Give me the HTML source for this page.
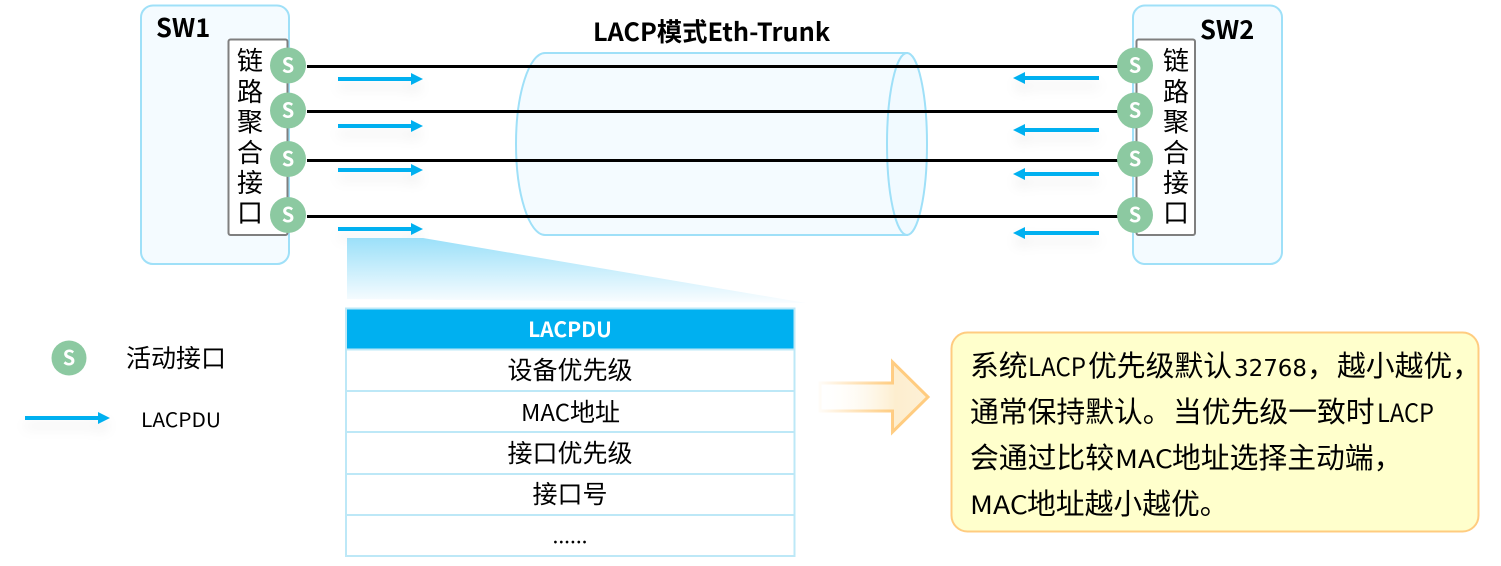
<!DOCTYPE html>
<html><head><meta charset="utf-8"><style>
html,body{margin:0;padding:0;background:#fff}
svg{display:block}
text{font-family:"Noto Sans CJK SC","Liberation Sans",sans-serif;fill:#000}
.s{font-size:20px;fill:#fff;text-anchor:middle;font-weight:700}
.p{font-size:26px;text-anchor:middle}
.t{font-size:25px;text-anchor:middle}
.y{font-size:28.8px}
</style></head><body>
<svg width="1501" height="566" viewBox="0 0 1501 566" xmlns="http://www.w3.org/2000/svg">
<defs>
<linearGradient id="g1" x1="0" y1="0" x2="0" y2="1"><stop offset="0" stop-color="#9be0f9"/><stop offset="1" stop-color="#fafdff"/></linearGradient>
<linearGradient id="g2" gradientUnits="userSpaceOnUse" x1="820" y1="0" x2="928" y2="0"><stop offset="0" stop-color="#fff" stop-opacity="0"/><stop offset="0.7" stop-color="#fdeecf"/><stop offset="1" stop-color="#fdf0d6"/></linearGradient>
<linearGradient id="g3" gradientUnits="userSpaceOnUse" x1="815" y1="0" x2="895" y2="0"><stop offset="0" stop-color="#ffcc80" stop-opacity="0"/><stop offset="1" stop-color="#ffcc80"/></linearGradient>
<filter id="sh" x="-20%" y="-300%" width="140%" height="900%"><feDropShadow dx="0" dy="8" stdDeviation="6" flood-color="#000" flood-opacity="0.08"/></filter>
</defs>

<rect x="141" y="5.500" width="148" height="258.500" rx="12" fill="#f4fbff" stroke="#9fe0f8" stroke-width="2"/>
<rect x="1133" y="5.500" width="149" height="258.500" rx="12" fill="#f4fbff" stroke="#9fe0f8" stroke-width="2"/>
<text x="156" y="37" font-size="25.500" font-weight="700">SW1</text>
<text x="1200" y="39" font-size="25.500" font-weight="700">SW2</text>
<text x="593" y="41" font-size="25.300" font-weight="700">LACP模式Eth-Trunk</text>

<rect x="228.500" y="39.500" width="59" height="195.500" rx="2" fill="#fff" stroke="#7f7f7f" stroke-width="2"/>
<rect x="1136.500" y="39.500" width="58.500" height="195.500" rx="2" fill="#fff" stroke="#7f7f7f" stroke-width="2"/>
<text class="p" x="250" y="70">链</text><text class="p" x="250" y="101">路</text><text class="p" x="250" y="131">聚</text><text class="p" x="250" y="162">合</text><text class="p" x="250" y="192">接</text><text class="p" x="250" y="222">口</text>
<text class="p" x="1176" y="70">链</text><text class="p" x="1176" y="101">路</text><text class="p" x="1176" y="131">聚</text><text class="p" x="1176" y="162">合</text><text class="p" x="1176" y="192">接</text><text class="p" x="1176" y="222">口</text>

<path d="M545 53H907V235H545C529 235 516 194 516 144C516 94 529 53 545 53Z" fill="#f4fbff" stroke="#9fe0f8" stroke-width="2"/>
<ellipse cx="907" cy="144" rx="20" ry="91" fill="#f1faff" stroke="#9fe0f8" stroke-width="2"/>

<g stroke="#000" stroke-width="3"><path d="M307 66.500H1119"/><path d="M307 111.500H1119"/><path d="M307 160.500H1119"/><path d="M307 216.500H1119"/></g>

<g fill="#8cc9a1">
<circle cx="288" cy="65.500" r="18"/><circle cx="288" cy="110.500" r="18"/><circle cx="288" cy="159" r="18"/><circle cx="288" cy="215" r="18"/>
<circle cx="1135" cy="65.500" r="18"/><circle cx="1135" cy="110.500" r="18"/><circle cx="1135" cy="159" r="18"/><circle cx="1135" cy="215" r="18"/>
<circle cx="69" cy="358" r="17.500"/>
</g>
<text class="s" x="288" y="72.500">S</text><text class="s" x="288" y="117.500">S</text><text class="s" x="288" y="166">S</text><text class="s" x="288" y="222">S</text>
<text class="s" x="1135" y="72.500">S</text><text class="s" x="1135" y="117.500">S</text><text class="s" x="1135" y="166">S</text><text class="s" x="1135" y="222">S</text>
<text class="s" x="69" y="365">S</text>

<g fill="#00b0f0" filter="url(#sh)">
<path d="M338 77H411V73L423 79L411 85V81H338Z"/>
<path d="M338 124H411V120L423 126L411 132V128H338Z"/>
<path d="M338 168H411V164L423 170L411 176V172H338Z"/>
<path d="M338 227H411V223L423 229L411 235V231H338Z"/>
<path d="M1099 76H1025V72L1013 78L1025 84V80H1099Z"/>
<path d="M1099 128H1025V124L1013 130L1025 136V132H1099Z"/>
<path d="M1099 172H1025V168L1013 174L1025 180V176H1099Z"/>
<path d="M1099 231H1025V227L1013 233L1025 239V235H1099Z"/>
<path d="M25 416H98V412L110 418L98 424V420H25Z"/>
</g>

<path d="M347 238H423L806 303L347 299Z" fill="url(#g1)"/>

<rect x="346" y="309" width="448" height="40" fill="#00b0f0"/>
<rect x="346" y="308.500" width="448.500" height="247.500" fill="none" stroke="#bde8f7" stroke-width="2"/>
<g stroke="#bde8f7" stroke-width="2"><path d="M346 349.500H795"/><path d="M346 391H795"/><path d="M346 432H795"/><path d="M346 474H795"/><path d="M346 515H795"/></g>
<text x="570" y="337" font-size="21" font-weight="700" text-anchor="middle" style="fill:#fff">LACPDU</text>
<text class="t" x="570" y="379">设备优先级</text>
<text x="521" y="421" font-size="23" textLength="49" lengthAdjust="spacingAndGlyphs">MAC</text><text class="t" x="570" y="421" style="text-anchor:start">地址</text>
<text class="t" x="570" y="462">接口优先级</text>
<text class="t" x="570" y="503">接口号</text>
<text x="570" y="543" font-size="21" text-anchor="middle">......</text>

<text x="126" y="367" font-size="25">活动接口</text>
<text x="141" y="427" font-size="20" textLength="80" lengthAdjust="spacingAndGlyphs">LACPDU</text>

<path d="M820 383H892.500V362L928 397L892.500 432V411H820Z" fill="url(#g2)" stroke="url(#g3)" stroke-width="3"/>

<rect x="951.500" y="332.500" width="527" height="199" rx="16" fill="#ffffcc" stroke="#ffcc80" stroke-width="2"/>
<text class="y" x="970" y="376">系统</text><text class="y" x="1028" y="376" textLength="58" lengthAdjust="spacingAndGlyphs" style="font-size:25px">LACP</text><text class="y" x="1088" y="376">优先级默认</text><text class="y" x="1234" y="376" textLength="73" lengthAdjust="spacingAndGlyphs" style="font-size:23px;font-family:'DejaVu Sans',sans-serif">32768</text><text class="y" x="1307" y="376">，</text><text class="y" x="1337" y="376">越小越优，</text>
<text class="y" x="970" y="422">通常保持默认。</text><text class="y" x="1173" y="422">当优先级一致时</text><text class="y" x="1377" y="422" textLength="57" lengthAdjust="spacingAndGlyphs" style="font-size:25px">LACP</text>
<text class="y" x="970" y="468">会通过比较</text><text class="y" x="1115" y="468" textLength="58" lengthAdjust="spacingAndGlyphs" style="font-size:25px">MAC</text><text class="y" x="1172" y="468">地址选择主动端，</text>
<text class="y" x="970" y="514" textLength="58" lengthAdjust="spacingAndGlyphs" style="font-size:25px">MAC</text><text class="y" x="1027" y="514">地址越小越优。</text>
</svg>
</body></html>
